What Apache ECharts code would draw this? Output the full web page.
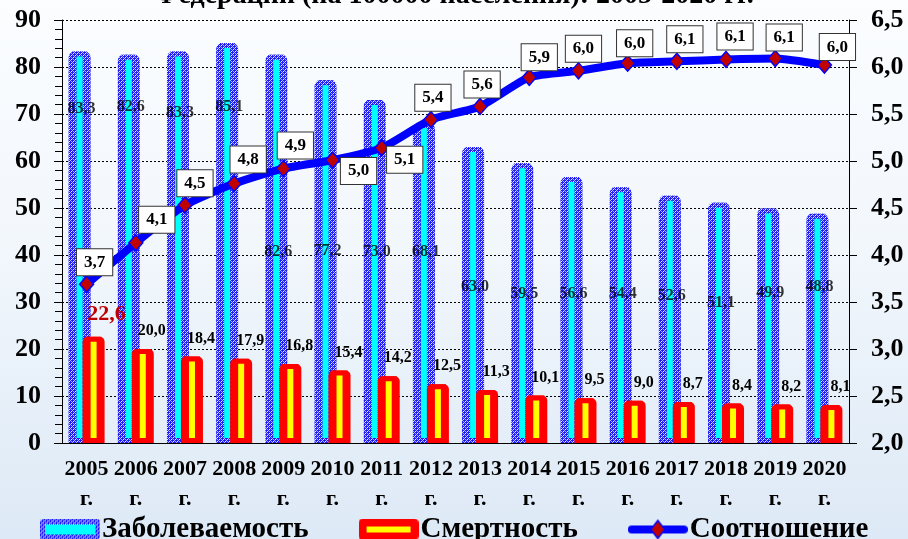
<!DOCTYPE html>
<html>
<head>
<meta charset="utf-8">
<script src="https://cdn.jsdelivr.net/npm/echarts@6/dist/echarts.min.js"></script>
<style>
  html, body { margin: 0; padding: 0; }
  #content {
    width: 908px; height: 539px;
    background: linear-gradient(to bottom, #fbfdff 0%, #f2f7fc 45%, #dde9f6 100%);
  }
</style>
</head>
<body>
<div id="content"></div>
<script>
// данные (на 100000 населения)
var years = ['2005', '2006', '2007', '2008', '2009', '2010', '2011', '2012',
             '2013', '2014', '2015', '2016', '2017', '2018', '2019', '2020'];
var incidence = [83.3, 82.6, 83.3, 85.1, 82.6, 77.2, 73.0, 68.1, 63.0, 59.5, 56.6, 54.4, 52.6, 51.1, 49.9, 48.8];
var mortality = [22.6, 20.0, 18.4, 17.9, 16.8, 15.4, 14.2, 12.5, 11.3, 10.1, 9.5, 9.0, 8.7, 8.4, 8.2, 8.1];
var ratio = [3.69, 4.13, 4.53, 4.76, 4.92, 5.01, 5.14, 5.44, 5.58, 5.89, 5.96, 6.04, 6.06, 6.08, 6.09, 6.02];

// где стоят подписи заболеваемости (в единицах левой оси)
var incLabelAt = [71, 71.5, 70.2, 71.5, 40.6, 40.9, 40.6, 40.6, 33.2, 31.7, 31.7, 31.7, 31.3, 29.8, 31.9, 33.2];
// сдвиг подписей соотношения от маркера, px
var ratioLabelShift = [[8, -22], [21, -23], [10, -22], [14, -24], [12, -23], [26, 11], [23, 12], [2, -22],
                       [2, -22], [10, -20], [5, -22], [7, -20], [8, -22], [9, -23], [9, -21], [13, -18]];

var FONT = '"Liberation Serif", "Times New Roman", serif';

function comma(v, d) {
    return Number(v).toFixed(d).replace('.', ',');
}

// синяя «сеточка»
function makeDots() {
    var c = document.createElement('canvas');
    c.width = 4; c.height = 4;
    var g = c.getContext('2d');
    g.fillStyle = '#1c1cff';
    g.fillRect(0, 0, 4, 4);
    g.fillStyle = '#ffffff';
    g.fillRect(1, 1, 1, 1);
    g.fillRect(3, 3, 1, 1);
    g.fillStyle = '#b0b0ff';
    g.fillRect(1, 3, 1, 1);
    g.fillRect(3, 1, 1, 1);
    g.fillRect(0, 2, 1, 1);
    g.fillRect(2, 0, 1, 1);
    return c;
}
var dots = makeDots();
var dotFill = { image: dots, repeat: 'repeat' };

function roundRect(g, x, y, w, h, r) {
    g.beginPath();
    g.moveTo(x + r, y);
    g.lineTo(x + w - r, y);
    g.quadraticCurveTo(x + w, y, x + w, y + r);
    g.lineTo(x + w, y + h - r);
    g.quadraticCurveTo(x + w, y + h, x + w - r, y + h);
    g.lineTo(x + r, y + h);
    g.quadraticCurveTo(x, y + h, x, y + h - r);
    g.lineTo(x, y + r);
    g.quadraticCurveTo(x, y, x + r, y);
    g.closePath();
}

function legendIcon(kind) {
    var c = document.createElement('canvas');
    c.width = 60; c.height = 22;
    var g = c.getContext('2d');
    if (kind == 0) {
        g.fillStyle = g.createPattern(dots, 'repeat');
        roundRect(g, 0, 0, 60, 22, 4);
        g.fill();
        g.fillStyle = '#00ffff';
        g.fillRect(5, 6, 50, 10);
    } else if (kind == 1) {
        g.fillStyle = '#ff0000';
        roundRect(g, 0, 0, 60, 22, 5);
        g.fill();
        g.fillStyle = '#ffff00';
        g.fillRect(8, 8, 44, 6);
    } else {
        g.strokeStyle = '#0000ff';
        g.lineWidth = 8;
        g.lineCap = 'round';
        g.beginPath();
        g.moveTo(4, 11);
        g.lineTo(56, 11);
        g.stroke();
        g.fillStyle = '#c00000';
        g.lineWidth = 1.5;
        g.beginPath();
        g.moveTo(30, 2);
        g.lineTo(37, 11);
        g.lineTo(30, 20);
        g.lineTo(23, 11);
        g.closePath();
        g.fill();
        g.stroke();
    }
    return 'image://' + c.toDataURL();
}

var option = {
    backgroundColor: 'transparent',
    animation: false,
    textStyle: { fontFamily: FONT },
    title: {
        text: 'Федерации (на 100000 населения): 2005-2020 гг.',
        left: 'center',
        top: -23,
        textStyle: { fontFamily: FONT, fontSize: 28, fontWeight: 'bold', color: '#000' }
    },
    legend: {
        left: 35,
        top: 510,
        itemWidth: 60,
        itemHeight: 22,
        itemGap: 50,
        selectedMode: false,
        textStyle: { fontFamily: FONT, fontSize: 29, fontWeight: 'bold', color: '#000', padding: [0, 0, 0, -3] },
        data: [
            { name: 'Заболеваемость', icon: legendIcon(0) },
            { name: 'Смертность', icon: legendIcon(1) },
            { name: 'Соотношение', icon: legendIcon(2) }
        ]
    },
    grid: { left: 62, right: 59, top: 20, bottom: 96 },
    xAxis: [{
        type: 'category',
        data: years,
        axisLine: { lineStyle: { color: '#000', width: 1 } },
        axisTick: { length: 5, lineStyle: { color: '#000' } },
        axisLabel: {
            interval: 0,
            margin: 11,
            color: '#000',
            fontFamily: FONT,
            fontSize: 22,
            fontWeight: 'bold',
            lineHeight: 30,
            formatter: function (v) { return v + '\nг.'; }
        }
    }, {
        type: 'category',
        data: years,
        show: false
    }],
    yAxis: [{
        type: 'value',
        min: 0, max: 90, interval: 10,
        axisLine: { show: true, lineStyle: { color: '#000' } },
        axisTick: { show: true, length: 8, lineStyle: { color: '#000' } },
        minorTick: { show: true, splitNumber: 5, length: 7, lineStyle: { color: '#000' } },
        splitLine: { show: true, lineStyle: { color: '#000', type: [2, 2], width: 1 } },
        axisLabel: { margin: 21, color: '#000', fontFamily: FONT, fontSize: 26, fontWeight: 'bold' }
    }, {
        type: 'value',
        position: 'right',
        min: 2, max: 6.5, interval: 0.5,
        axisLine: { show: true, lineStyle: { color: '#000' } },
        axisTick: { show: true, length: 8, lineStyle: { color: '#000' } },
        splitLine: { show: false },
        axisLabel: {
            margin: 22, color: '#000', fontFamily: FONT, fontSize: 26, fontWeight: 'bold',
            formatter: function (v) { return comma(v, 1); }
        }
    }],
    series: [{
        name: 'Заболеваемость',
        type: 'bar',
        xAxisIndex: 0,
        barWidth: 22,
        barGap: '-36.36%',
        z: 2,
        itemStyle: { color: dotFill, borderRadius: [6, 6, 0, 0] },
        data: incidence
    }, {
        name: 'Смертность',
        type: 'bar',
        xAxisIndex: 0,
        barWidth: 22,
        barGap: '-36.36%',
        z: 4,
        itemStyle: { color: '#ff0000', borderRadius: [5, 5, 0, 0] },
        label: {
            show: true,
            position: 'top',
            distance: 10,
            offset: [9, 0],
            color: '#000',
            fontFamily: FONT,
            fontSize: 16,
            fontWeight: 'bold',
            formatter: function (p) { return comma(p.value, 1); }
        },
        data: mortality.map(function (v, i) {
            if (i == 0) {
                return { value: v, label: { color: '#c00000', fontSize: 22, distance: 11, offset: [13, 0] } };
            }
            return v;
        })
    }, {
        // голубая полоска внутри столбца заболеваемости
        name: 'Заболеваемость-полоса',
        type: 'bar',
        xAxisIndex: 1,
        barWidth: 16,
        barGap: '-12.5%',
        z: 3,
        silent: true,
        itemStyle: { color: '#00ffff', borderColor: dotFill, borderWidth: 5 },
        data: incidence
    }, {
        // жёлтая полоска внутри столбца смертности
        name: 'Смертность-полоса',
        type: 'bar',
        xAxisIndex: 1,
        barWidth: 16,
        barGap: '-12.5%',
        z: 5,
        silent: true,
        itemStyle: { color: '#ffff00', borderColor: '#ff0000', borderWidth: 5 },
        data: mortality
    }, {
        // подписи заболеваемости
        name: 'Заболеваемость-подписи',
        type: 'scatter',
        xAxisIndex: 0,
        yAxisIndex: 0,
        symbolSize: 0,
        silent: true,
        z: 6,
        label: {
            show: true,
            position: 'inside',
            offset: [-5, 0],
            color: '#000',
            fontFamily: FONT,
            fontSize: 16,
            fontWeight: 'bold',
            formatter: function (p) { return comma(incidence[p.dataIndex], 1); }
        },
        data: incLabelAt
    }, {
        name: 'Соотношение',
        type: 'line',
        xAxisIndex: 0,
        yAxisIndex: 1,
        z: 7,
        smooth: 0.2,
        symbol: 'diamond',
        symbolSize: [14, 16],
        lineStyle: { color: '#0000ff', width: 8 },
        itemStyle: { color: '#c00000', borderColor: '#0000ff', borderWidth: 1.5 },
        label: {
            show: true,
            position: 'inside',
            color: '#000',
            fontFamily: FONT,
            fontSize: 17,
            fontWeight: 'bold',
            lineHeight: 18,
            backgroundColor: '#ffffff',
            borderColor: '#333',
            borderWidth: 1,
            padding: [4, 7],
            formatter: function (p) { return comma(p.value, 1); }
        },
        data: ratio.map(function (v, i) {
            return { value: v, label: { offset: ratioLabelShift[i] } };
        })
    }]
};

var myChart = echarts.init(document.getElementById('content'));
myChart.setOption(option);
</script>
</body>
</html>
